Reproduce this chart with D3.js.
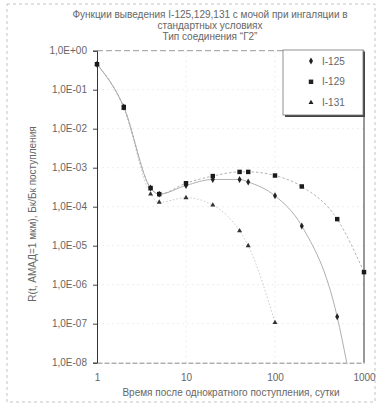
<!DOCTYPE html>
<html><head><meta charset="utf-8">
<script src="https://cdn.jsdelivr.net/npm/d3@7"></script>
<style>
html,body{margin:0;padding:0;background:#fff;}
svg{display:block;font-family:"Liberation Sans",Arial,sans-serif;}
</style></head>
<body>
<svg id="c" width="386" height="420"></svg>
<script>
const titleLines = ["Функции выведения I-125,129,131 с мочой при ингаляции в", "стандартных условиях", "Тип соединения “Г2”"];
const xTitle = "Время после однократного поступления, сутки";
const yTitle = "R(t, АМАД=1 мкм), Бк/Бк поступления";
const xTicks = [1, 10, 100, 1000];
const xTickLabels = ["1", "10", "100", "1000"];
const yTicks = [1, 1e-1, 1e-2, 1e-3, 1e-4, 1e-5, 1e-6, 1e-7, 1e-8];
const yTickLabels = ["1,0E+00", "1,0E-01", "1,0E-02", "1,0E-03", "1,0E-04", "1,0E-05", "1,0E-06", "1,0E-07", "1,0E-08"];
const seriesNames = ["I-125", "I-129", "I-131"];

const days125 = [1, 2, 4, 5, 10, 20, 40, 50, 100, 200, 500];
const vals125 = [0.45, 0.036, 3.0e-4, 2.1e-4, 3.5e-4, 5.0e-4, 5.0e-4, 4.3e-4, 1.9e-4, 3.2e-5, 1.5e-7];
const days129 = [1, 2, 4, 5, 10, 20, 40, 50, 100, 200, 500, 1000];
const vals129 = [0.45, 0.036, 3.0e-4, 2.1e-4, 4.0e-4, 6.1e-4, 7.8e-4, 7.8e-4, 6.3e-4, 3.3e-4, 4.8e-5, 2.1e-6];
const days131 = [1, 2, 4, 5, 10, 20, 40, 50, 100];
const vals131 = [0.45, 0.033, 2.1e-4, 1.3e-4, 1.7e-4, 1.1e-4, 2.4e-5, 1.0e-5, 1.07e-7];
// end of the drawn I-125 trend curve where it leaves the plot
const tail125Days = [640];
const tail125Vals = [1e-8];

const svg = d3.select("#c");
const L = 97, R = 364, T = 50.7, B = 362.7;
const x = d3.scaleLog().domain([1, 1000]).range([L, R]);
const y = d3.scaleLog().domain([1e-8, 1]).range([B, T]);

// outer dashed frame
svg.append("rect").attr("x", 7).attr("y", 4).attr("width", 368).attr("height", 398)
  .attr("fill", "none").attr("stroke", "#c4c4c4").attr("stroke-width", 1).attr("stroke-dasharray", "3,3");

// title
const title = svg.append("text").attr("text-anchor", "middle").attr("fill", "#666").style("font-size", "10px");
titleLines.forEach((t, i) => title.append("tspan").attr("x", 210).attr("y", 18 + i * 11.2).text(t));

// faint grid
const grid = svg.append("g").attr("stroke", "#e8e8e8").attr("stroke-width", 0.8).attr("stroke-dasharray", "2,3");
yTicks.slice(1, -1).forEach(v => grid.append("line").attr("x1", L).attr("x2", R).attr("y1", y(v)).attr("y2", y(v)));
xTicks.slice(1, -1).forEach(v => grid.append("line").attr("y1", T).attr("y2", B).attr("x1", x(v)).attr("x2", x(v)));

// plot borders
svg.append("line").attr("x1", L).attr("x2", R).attr("y1", T).attr("y2", T).attr("stroke", "#999").attr("stroke-dasharray", "6,3");
svg.append("line").attr("x1", R).attr("x2", R).attr("y1", T).attr("y2", B).attr("stroke", "#333");

// axes
const yAxis = d3.axisLeft(y).tickValues(yTicks).tickSize(4).tickFormat((d, i) => yTickLabels[i]);
const gy = svg.append("g").attr("transform", `translate(${L},0)`).call(yAxis);
gy.select(".domain").attr("stroke", "#333");
gy.selectAll(".tick line").attr("stroke", "#444");
gy.selectAll("text").attr("fill", "#666").style("font-size", "10px").attr("dx", "-3");

const xAxis = d3.axisBottom(x).tickValues(xTicks).tickSize(0).tickFormat((d, i) => xTickLabels[i]);
const gx = svg.append("g").attr("transform", `translate(0,${B})`).call(xAxis);
gx.select(".domain").attr("stroke", "#888").attr("stroke-dasharray", "5,2");
gx.selectAll("text").attr("fill", "#666").style("font-size", "10px").attr("dy", "1.55em");

svg.append("text").attr("x", 231).attr("y", 396).attr("text-anchor", "middle").attr("fill", "#666")
  .style("font-size", "10px").text(xTitle);
svg.append("text").attr("transform", "translate(36,214) rotate(-90)").attr("text-anchor", "middle").attr("fill", "#666")
  .style("font-size", "10px").text(yTitle);

// clip
svg.append("defs").append("clipPath").attr("id", "pc").append("rect")
  .attr("x", L).attr("y", T).attr("width", R - L).attr("height", B - T);

const line = d3.line().x(d => x(d[0])).y(d => y(d[1])).curve(d3.curveMonotoneX);
const zip = (a, b) => a.map((d, i) => [d, b[i]]);
const lines = svg.append("g").attr("clip-path", "url(#pc)").attr("fill", "none");
lines.append("path").attr("d", line(zip(days131, vals131))).attr("stroke", "#c4c4c4").attr("stroke-width", 0.9).attr("stroke-dasharray", "1.5,2");
lines.append("path").attr("d", line(zip(days129, vals129))).attr("stroke", "#aaa").attr("stroke-width", 0.9).attr("stroke-dasharray", "2.5,2");
lines.append("path").attr("d", line(zip(days125, vals125).concat(zip(tail125Days, tail125Vals)))).attr("stroke", "#a6a6a6").attr("stroke-width", 0.9);

// markers
const sym = {
  "I-125": d3.symbol().type(d3.symbolDiamond).size(14),
  "I-129": d3.symbol().type(d3.symbolSquare).size(20),
  "I-131": d3.symbol().type(d3.symbolTriangle).size(11)
};
const mk = svg.append("g");
function drawMarkers(days, vals, name, color) {
  mk.selectAll(null).data(zip(days, vals)).join("path")
    .attr("d", sym[name]()).attr("fill", color)
    .attr("transform", d => `translate(${x(d[0])},${y(d[1])})`);
}
drawMarkers(days131, vals131, "I-131", "#333");
drawMarkers(days125, vals125, "I-125", "#222");
drawMarkers(days129, vals129, "I-129", "#1a1a1a");

// legend
const lg = svg.append("g");
lg.append("rect").attr("x", 285).attr("y", 52).attr("width", 80).attr("height", 65).attr("fill", "#444");
lg.append("rect").attr("x", 283).attr("y", 50).attr("width", 80).attr("height", 65).attr("fill", "#fff").attr("stroke", "#777").attr("stroke-width", 0.8);
seriesNames.forEach((n, i) => {
  const yy = 61 + i * 20.8;
  lg.append("path").attr("d", sym[n]()).attr("fill", "#222").attr("transform", `translate(311,${yy})`);
  lg.append("text").attr("x", 322).attr("y", yy + 3.5).attr("fill", "#666").style("font-size", "10px").text(n);
});
</script>
</body></html>
